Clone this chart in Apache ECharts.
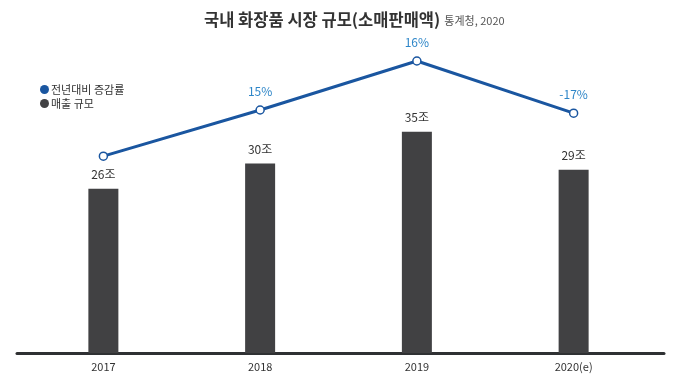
<!DOCTYPE html>
<html><head><meta charset="utf-8">
<script src="https://cdn.jsdelivr.net/npm/echarts@6/dist/echarts.min.js"></script>
<style>html,body{margin:0;padding:0;background:#fff}#c{width:674px;height:384px}</style>
</head><body><div id="c"></div>
<script>
const categories = ['2017', '2018', '2019', '2020(e)'];
const salesValues = [26, 30, 35, 29];
const salesLabels = ['26조', '30조', '35조', '29조'];
const growthLevel = [62.3, 76.9, 92.4, 75.9];
const growthLabels = ['', '15%', '16%', '-17%'];

const chart = echarts.init(document.getElementById('c'));
const font = '"Noto Sans CJK KR", "Noto Sans", sans-serif';
chart.setOption({
  animation: false,
  textStyle: { fontFamily: font },
  title: {
    text: '{a|국내 화장품 시장 규모(소매판매액)} {b|통계청, 2020}',
    left: 199, top: 6,
    textStyle: {
      fontFamily: font,
      rich: {
        a: { fontSize: 16.5, fontWeight: 'bold', color: '#333', fontFamily: font },
        b: { fontSize: 11, fontWeight: 'normal', color: '#555', fontFamily: font, padding: [2, 0, 0, 0] }
      }
    }
  },
  legend: {
    orient: 'vertical', left: 35, top: 79, itemGap: 3,
    itemWidth: 9, itemHeight: 9, icon: 'circle',
    textStyle: { fontSize: 11, color: '#333', padding: [0, 0, 0, -3] },
    data: [
      { name: '전년대비 증감률', itemStyle: { color: '#1a56a0', borderWidth: 0 } },
      { name: '매출 규모' }
    ]
  },
  grid: [
    { left: 25, right: 22, top: 37, bottom: 31 },
    { left: 17, right: 10, top: 37, bottom: 31 }
  ],
  xAxis: [
    { type: 'category', gridIndex: 0, data: categories,
      axisLine: { show: false }, axisTick: { show: false },
      axisLabel: { fontSize: 11, color: '#333', margin: 8 } },
    { type: 'value', gridIndex: 1, min: 0, max: 1,
      axisLine: { show: true, lineStyle: { color: '#2f3133', width: 3 } },
      axisTick: { show: false }, axisLabel: { show: false }, splitLine: { show: false } }
  ],
  yAxis: [
    { type: 'value', gridIndex: 0, min: 0, max: 50, show: false },
    { type: 'value', gridIndex: 0, min: 0, max: 100, show: false },
    { type: 'value', gridIndex: 1, min: 0, max: 1, show: false }
  ],
  series: [
    { name: '매출 규모', type: 'bar', xAxisIndex: 0, yAxisIndex: 0,
      data: salesValues, barWidth: 30,
      itemStyle: { color: '#414143' },
      label: { show: true, position: 'top', distance: 8, fontSize: 12, color: '#333',
        formatter: p => salesLabels[p.dataIndex] } },
    { name: '전년대비 증감률', type: 'line', xAxisIndex: 0, yAxisIndex: 1,
      data: growthLevel, symbol: 'circle', symbolSize: 8,
      lineStyle: { color: '#1a56a0', width: 3 },
      itemStyle: { color: '#fff', borderColor: '#1a56a0', borderWidth: 1.5 },
      label: { show: true, position: 'top', distance: 8, fontSize: 12, color: '#2e86c8',
        formatter: p => growthLabels[p.dataIndex] } }
  ]
});
</script></body></html>
